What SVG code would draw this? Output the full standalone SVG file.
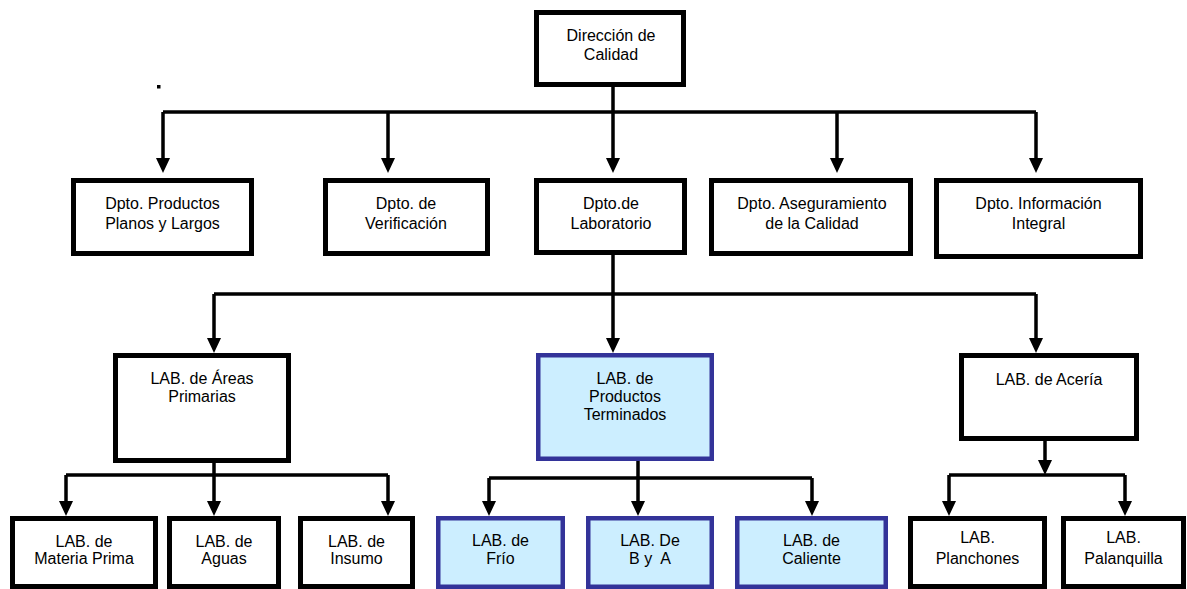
<svg xmlns="http://www.w3.org/2000/svg" xmlns:xlink="http://www.w3.org/1999/xlink" width="1187" height="589" viewBox="0 0 1187 589">
<style>
.box{fill:#ffffff;stroke:#000000;stroke-width:5}
.blue{fill:#cceeff;stroke:#333399;stroke-width:4.5}
.t{font-family:"Liberation Sans",Arial,sans-serif;font-size:16px;fill:#000000;text-anchor:middle}
.ln{fill:none;stroke:#000000;stroke-width:3.5}
</style>
<defs>
<polygon id="ah" points="-7,-15 7,-15 0,0" fill="#000000"/>
</defs>
<rect width="1187" height="589" fill="#ffffff"/>
<g id="connectors">
<path class="ln" d="M613,87 V112 M163,112 H1036 M163,112 V160 M388,112 V160 M613,112 V160 M837,112 V160 M1036,112 V160"/>
<use xlink:href="#ah" x="163" y="173"/>
<use xlink:href="#ah" x="388" y="173"/>
<use xlink:href="#ah" x="613" y="173"/>
<use xlink:href="#ah" x="837" y="173"/>
<use xlink:href="#ah" x="1036" y="173"/>
<path class="ln" d="M613,255 V294 M214,294 H1036 M214,294 V340 M613,294 V340 M1036,294 V340"/>
<use xlink:href="#ah" x="214" y="353"/>
<use xlink:href="#ah" x="613" y="353"/>
<use xlink:href="#ah" x="1036" y="353"/>
<path class="ln" d="M214,463 V475 M66,475 H388 M66,475 V503 M214,475 V503 M388,475 V503"/>
<use xlink:href="#ah" x="66" y="516"/>
<use xlink:href="#ah" x="214" y="516"/>
<use xlink:href="#ah" x="388" y="516"/>
<path class="ln" d="M638,461 V478 M489,478 H812 M489,478 V503 M638,478 V503 M812,478 V503"/>
<use xlink:href="#ah" x="489" y="516"/>
<use xlink:href="#ah" x="638" y="516"/>
<use xlink:href="#ah" x="812" y="516"/>
<path class="ln" d="M1045,441 V462 M949,475 H1125 M949,475 V503 M1125,475 V503"/>
<use xlink:href="#ah" x="1045" y="475"/>
<use xlink:href="#ah" x="949" y="516"/>
<use xlink:href="#ah" x="1125" y="516"/>
</g>
<rect x="157" y="85" width="3.5" height="3.5" fill="#000000"/>
<g id="n-direccion"><rect class="box" x="536.5" y="12.5" width="147" height="72"/><text class="t" x="611" y="41">Dirección de</text><text class="t" x="611" y="60">Calidad</text></g>
<g id="n-productos"><rect class="box" x="73.5" y="180.5" width="178" height="73"/><text class="t" x="162.5" y="209">Dpto. Productos</text><text class="t" x="162.5" y="229">Planos y Largos</text></g>
<g id="n-verificacion"><rect class="box" x="325.5" y="180.5" width="162" height="73"/><text class="t" x="406" y="209">Dpto. de</text><text class="t" x="406" y="229">Verificación</text></g>
<g id="n-laboratorio"><rect class="box" x="536.5" y="180.5" width="148" height="72"/><text class="t" x="611" y="209">Dpto.de</text><text class="t" x="611" y="229">Laboratorio</text></g>
<g id="n-aseguramiento"><rect class="box" x="711.5" y="180.5" width="199" height="73"/><text class="t" x="812" y="209">Dpto. Aseguramiento</text><text class="t" x="812" y="229">de la Calidad</text></g>
<g id="n-informacion"><rect class="box" x="936.5" y="180.5" width="204" height="76"/><text class="t" x="1038.5" y="209">Dpto. Información</text><text class="t" x="1038.5" y="229">Integral</text></g>
<g id="n-areas"><rect class="box" x="115.5" y="355.5" width="173" height="105"/><text class="t" x="202" y="384">LAB. de Áreas</text><text class="t" x="202" y="402">Primarias</text></g>
<g id="n-terminados"><rect class="blue" x="538.25" y="355.25" width="173.5" height="103.5"/><text class="t" x="625" y="384">LAB. de</text><text class="t" x="625" y="402">Productos</text><text class="t" x="625" y="420">Terminados</text></g>
<g id="n-aceria"><rect class="box" x="961.5" y="355.5" width="175" height="83"/><text class="t" x="1049" y="385">LAB. de Acería</text></g>
<g id="n-materia"><rect class="box" x="12.5" y="518.5" width="143" height="68"/><text class="t" x="84" y="547">LAB. de</text><text class="t" x="84" y="564">Materia Prima</text></g>
<g id="n-aguas"><rect class="box" x="169.5" y="518.5" width="109" height="68"/><text class="t" x="224" y="547">LAB. de</text><text class="t" x="224" y="564">Aguas</text></g>
<g id="n-insumo"><rect class="box" x="300.5" y="518.5" width="112" height="68"/><text class="t" x="356.5" y="547">LAB. de</text><text class="t" x="356.5" y="564">Insumo</text></g>
<g id="n-frio"><rect class="blue" x="438.25" y="518.25" width="124.5" height="68.5"/><text class="t" x="500.5" y="546">LAB. de</text><text class="t" x="500.5" y="564">Frío</text></g>
<g id="n-bya"><rect class="blue" x="588.25" y="518.25" width="123.5" height="68.5"/><text class="t" x="650" y="546">LAB. De</text><text class="t" x="650" y="564" xml:space="preserve">B y  A</text></g>
<g id="n-caliente"><rect class="blue" x="737.25" y="518.25" width="148.5" height="68.5"/><text class="t" x="811.5" y="546">LAB. de</text><text class="t" x="811.5" y="564">Caliente</text></g>
<g id="n-planchones"><rect class="box" x="910.5" y="518.5" width="134" height="68"/><text class="t" x="977.5" y="543">LAB.</text><text class="t" x="977.5" y="564">Planchones</text></g>
<g id="n-palanquilla"><rect class="box" x="1063.5" y="518.5" width="120" height="68"/><text class="t" x="1123.5" y="543">LAB.</text><text class="t" x="1123.5" y="564">Palanquilla</text></g>
</svg>
